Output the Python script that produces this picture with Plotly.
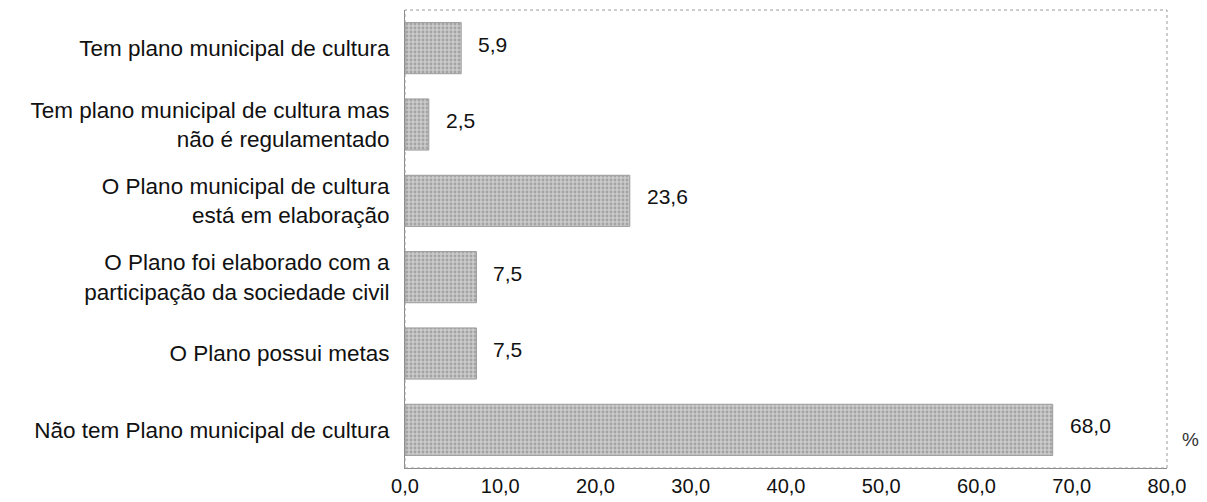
import plotly.graph_objects as go

categories = [
    "Tem plano municipal de cultura",
    "Tem plano municipal de cultura mas<br>não é regulamentado",
    "O Plano municipal de cultura<br>está em elaboração",
    "O Plano foi elaborado com a<br>participação da sociedade civil",
    "O Plano possui metas",
    "Não tem Plano municipal de cultura",
]
values = [5.9, 2.5, 23.6, 7.5, 7.5, 68.0]
value_labels = ["5,9", "2,5", "23,6", "7,5", "7,5", "68,0"]
tick_values = [0, 10, 20, 30, 40, 50, 60, 70, 80]
tick_labels = ["0,0", "10,0", "20,0", "30,0", "40,0", "50,0", "60,0", "70,0", "80,0"]
unit_label = "%"

FONT = "Liberation Sans, Arial, Helvetica, sans-serif"

fig = go.Figure()
fig.add_trace(go.Bar(
    y=categories,
    x=values,
    orientation="h",
    marker=dict(
        color="#c4c4c4",
        line=dict(color="#9c9c9c", width=1),
        pattern=dict(shape=".", fgcolor="#7c7c7c", bgcolor="#cacaca", size=4, solidity=0.4),
    ),
    hoverinfo="skip",
))

for cat, v, lab in zip(categories, values, value_labels):
    fig.add_annotation(
        x=v, y=cat, xref="x", yref="y",
        text=lab, showarrow=False,
        xanchor="left", yanchor="middle",
        xshift=15, yshift=4,
        font=dict(family=FONT, size=21, color="#111111"),
    )

fig.add_annotation(
    x=1.0, y=0.0, xref="paper", yref="paper",
    text=unit_label, showarrow=False,
    xanchor="left", yanchor="bottom",
    xshift=13, yshift=16,
    font=dict(family=FONT, size=19, color="#333333"),
)

fig.add_shape(
    type="rect", xref="paper", yref="paper",
    x0=0, y0=0, x1=1, y1=1,
    line=dict(color="#9a9a9a", width=1, dash="dot"),
    layer="above",
)

fig.update_layout(
    width=1199, height=494,
    margin=dict(l=397, r=40, t=2, b=34),
    paper_bgcolor="white",
    plot_bgcolor="white",
    showlegend=False,
    bargap=0.33,
    font=dict(family=FONT, size=22, color="#111111"),
)
fig.update_xaxes(
    range=[0, 80],
    tickvals=tick_values,
    ticktext=tick_labels,
    showgrid=False,
    zeroline=False,
    showline=True, linecolor="#8a8a8a", linewidth=1,
    ticks="",
    tickfont=dict(family=FONT, size=20, color="#111111"),
    automargin=False,
)
fig.update_yaxes(
    autorange="reversed",
    showgrid=False,
    showline=True, linecolor="#8a8a8a", linewidth=1,
    ticks="",
    ticklabelstandoff=10,
    tickfont=dict(family=FONT, size=22.5, color="#111111"),
    automargin=False,
)

fig.write_html("out.html")
